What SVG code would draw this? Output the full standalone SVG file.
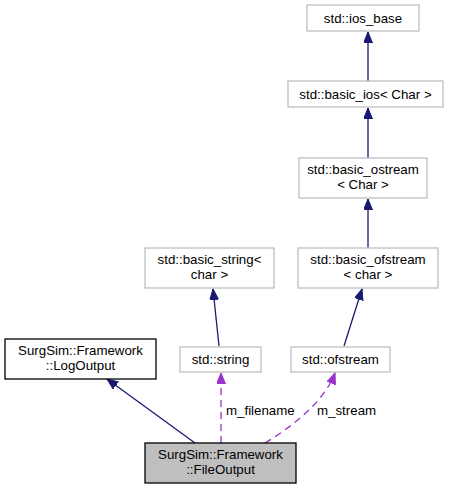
<svg xmlns="http://www.w3.org/2000/svg" width="453" height="489" viewBox="0 0 453 489">
<style>
text{font-family:"Liberation Sans",Arial,sans-serif;font-size:13.3px;fill:#000;text-anchor:middle}
.lbl{text-anchor:start}
.n{fill:#fff;stroke:#bfbfbf;stroke-width:1.3}
.d{fill:#fff;stroke:#000;stroke-width:1.3}
.cur{fill:#bfbfbf;stroke:#000;stroke-width:1.3}
.inh{fill:none;stroke:#191970;stroke-width:1.3}
.use{fill:none;stroke:#9a32cd;stroke-width:1.3;stroke-dasharray:7,5}
</style>
<defs>
<marker id="ah" markerUnits="userSpaceOnUse" markerWidth="12" markerHeight="10" refX="11" refY="4.5" orient="auto"><path d="M0,0 L11,4.5 L0,9 z" fill="#191970" stroke="#191970"/></marker>
<marker id="ap" markerUnits="userSpaceOnUse" markerWidth="12" markerHeight="10" refX="11" refY="4.5" orient="auto"><path d="M0,0 L11,4.5 L0,9 z" fill="#9a32cd" stroke="#9a32cd"/></marker>
</defs>
<g id="connectors">
<path class="inh" marker-end="url(#ah)" d="M368,81 L368,32"/>
<path class="inh" marker-end="url(#ah)" d="M368,158 L368,108"/>
<path class="inh" marker-end="url(#ah)" d="M368,248 L368,199"/>
<path class="inh" marker-end="url(#ah)" d="M219,346 L213,289"/>
<path class="inh" marker-end="url(#ah)" d="M344,346 L362,289"/>
<path class="inh" marker-end="url(#ah)" d="M195,443 L107,379"/>
<path class="use" marker-end="url(#ap)" d="M221,443 L221,373"/>
<path class="use" marker-end="url(#ap)" d="M265,443 C295,425 325,400 335,373"/>
<text class="lbl" x="226" y="415">m_filename</text>
<text class="lbl" x="317" y="415">m_stream</text>
</g>
<g id="ios_base"><rect class="n" x="307" y="5" width="112" height="26"/><text x="363" y="23">std::ios_base</text></g>
<g id="basic_ios"><rect class="n" x="288" y="81" width="155" height="26"/><text x="365.5" y="99">std::basic_ios&lt; Char &gt;</text></g>
<g id="basic_ostream"><rect class="n" x="299" y="158" width="128" height="40"/><text x="363" y="174">std::basic_ostream</text><text x="363" y="189">&lt; Char &gt;</text></g>
<g id="basic_ofstream"><rect class="n" x="298" y="248" width="140" height="40"/><text x="368" y="264">std::basic_ofstream</text><text x="368" y="279">&lt; char &gt;</text></g>
<g id="basic_string"><rect class="n" x="145" y="248" width="129" height="40"/><text x="209.5" y="264">std::basic_string&lt;</text><text x="209.5" y="279">char &gt;</text></g>
<g id="string"><rect class="n" x="180" y="347" width="81" height="25"/><text x="220.5" y="364">std::string</text></g>
<g id="ofstream"><rect class="n" x="291" y="347" width="99" height="25"/><text x="340.5" y="364">std::ofstream</text></g>
<g id="LogOutput"><rect class="d" x="5" y="339" width="151" height="40"/><text x="80.5" y="355">SurgSim::Framework</text><text x="80.5" y="370">::LogOutput</text></g>
<g id="FileOutput"><rect class="cur" x="145" y="443" width="151" height="40"/><text x="220.5" y="459">SurgSim::Framework</text><text x="220.5" y="474">::FileOutput</text></g>
</svg>
